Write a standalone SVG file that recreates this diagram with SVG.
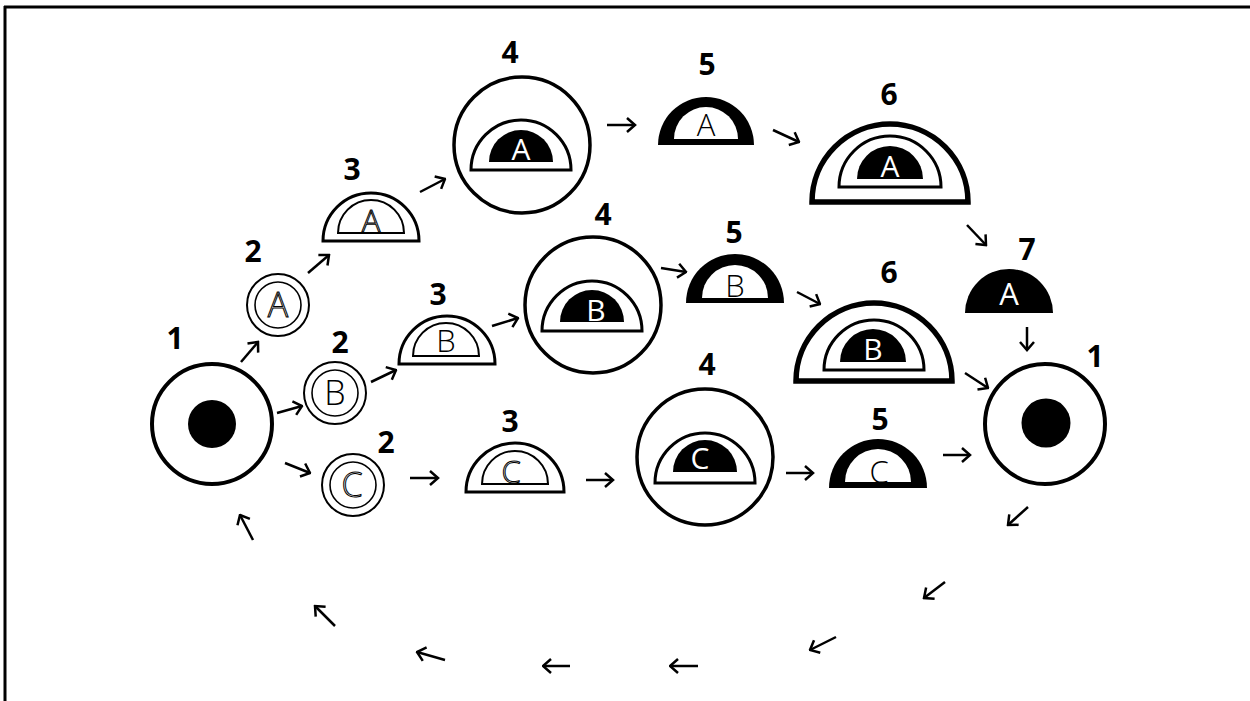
<svg xmlns="http://www.w3.org/2000/svg" width="1250" height="701" viewBox="0 0 1250 701">
<style>
.lbl{font-family:"Open Sans","Liberation Sans",sans-serif;font-weight:700;font-size:30px;fill:#000;text-anchor:middle}
.let{font-family:"Open Sans","Liberation Sans",sans-serif;font-weight:300;font-size:31px;fill:#000;text-anchor:middle}
.hol{fill:none;stroke:#000;stroke-width:1}
.wht{fill:#fff;font-weight:400}
.ring{fill:#fff;stroke:#000}
.blk{fill:#000}
.edge{stroke:#000;stroke-width:2.5;fill:none;marker-end:url(#ah)}
</style>
<defs>
<marker id="ah" viewBox="0 0 12 18" refX="10.5" refY="9" markerWidth="12" markerHeight="18" markerUnits="userSpaceOnUse" orient="auto">
<path d="M2.5,2 L10.5,9 L2.5,16" fill="none" stroke="#000" stroke-width="2.5" stroke-linejoin="miter"/>
</marker>
</defs>
<rect width="1250" height="701" fill="#fff"/>
<g id="frame">
<line x1="4" y1="7" x2="1250" y2="7" stroke="#000" stroke-width="3"/>
<line x1="5" y1="6" x2="5" y2="701" stroke="#000" stroke-width="3"/>
</g>
<g id="n1L">
<circle class="ring" cx="212" cy="424" r="60" stroke-width="4"/>
<circle class="blk" cx="212" cy="424" r="24"/>
<text class="lbl" x="175" y="349">1</text>
</g>
<g id="n2A">
<circle class="ring" cx="278" cy="305" r="31" stroke-width="2"/>
<circle class="ring" cx="278" cy="305" r="23" stroke-width="1.6"/>
<text class="let hol" x="278" y="317" style="font-size:34px">A</text>
<text class="lbl" x="253" y="262">2</text>
</g>
<g id="n2B">
<circle class="ring" cx="335" cy="393" r="31" stroke-width="2"/>
<circle class="ring" cx="335" cy="393" r="23" stroke-width="1.6"/>
<text class="let" x="335" y="405" style="font-size:34px">B</text>
<text class="lbl" x="340" y="353">2</text>
</g>
<g id="n2C">
<circle class="ring" cx="353" cy="485" r="31" stroke-width="2"/>
<circle class="ring" cx="353" cy="485" r="23" stroke-width="1.6"/>
<text class="let hol" x="352" y="497" style="font-size:34px">C</text>
<text class="lbl" x="386" y="453">2</text>
</g>
<g id="n3A">
<path class="ring" d="M323,241 A48,48 0 0 1 419,241 Z" stroke-width="3"/>
<path class="ring" d="M338,233 A33,33 0 0 1 404,233 Z" stroke-width="2"/>
<text class="let hol" x="371" y="232" style="font-size:31px">A</text>
<text class="lbl" x="352" y="180">3</text>
</g>
<g id="n4A">
<circle class="ring" cx="522" cy="145" r="68" stroke-width="3.5"/>
<path class="ring" d="M471,170 A50,50 0 0 1 571,170 Z" stroke-width="3"/>
<path class="blk" d="M489,162 A32,32 0 0 1 553,162 Z"/>
<text class="let wht" x="521" y="160" style="font-size:30px">A</text>
<text class="lbl" x="510" y="63">4</text>
</g>
<g id="n5A">
<path class="blk" d="M658,145 A48,48 0 0 1 754,145 Z"/>
<path fill="#fff" d="M674,139 A32,32 0 0 1 738,139 Z"/>
<text class="let" x="706" y="136" style="font-size:31px">A</text>
<text class="lbl" x="707" y="75">5</text>
</g>
<g id="n6A">
<path class="ring" d="M812,202 A78,78 0 0 1 968,202 Z" stroke-width="5.5"/>
<path class="ring" d="M839,187 A51,51 0 0 1 941,187 Z" stroke-width="3"/>
<path class="blk" d="M857,179 A33,33 0 0 1 923,179 Z"/>
<text class="let wht" x="890" y="177" style="font-size:30px">A</text>
<text class="lbl" x="889" y="105">6</text>
</g>
<g id="n7A">
<path class="blk" d="M965,313 A44,44 0 0 1 1053,313 Z"/>
<text class="let wht" x="1009" y="305" style="font-size:31px">A</text>
<text class="lbl" x="1027" y="260">7</text>
</g>
<g id="n1R">
<circle class="ring" cx="1045" cy="424" r="60" stroke-width="4"/>
<circle class="blk" cx="1046" cy="423" r="24.5"/>
<text class="lbl" x="1095" y="367">1</text>
</g>
<g id="n3B">
<path class="ring" d="M399,364 A48,48 0 0 1 495,364 Z" stroke-width="3"/>
<path class="ring" d="M413,356 A33,33 0 0 1 479,356 Z" stroke-width="2"/>
<text class="let" x="446" y="352" style="font-size:31px">B</text>
<text class="lbl" x="438" y="305">3</text>
</g>
<g id="n4B">
<circle class="ring" cx="593" cy="305" r="68" stroke-width="3.5"/>
<path class="ring" d="M542,331 A50,50 0 0 1 642,331 Z" stroke-width="3"/>
<path class="blk" d="M560,322 A32,32 0 0 1 624,322 Z"/>
<text class="let wht" x="596" y="321" style="font-size:30px">B</text>
<text class="lbl" x="603" y="225">4</text>
</g>
<g id="n5B">
<path class="blk" d="M686,303 A49,49 0 0 1 784,303 Z"/>
<path fill="#fff" d="M702,298 A33,33 0 0 1 768,298 Z"/>
<text class="let" x="735" y="297" style="font-size:31px">B</text>
<text class="lbl" x="734" y="243">5</text>
</g>
<g id="n6B">
<path class="ring" d="M796,381 A78,78 0 0 1 952,381 Z" stroke-width="5.5"/>
<path class="ring" d="M824,370 A50,50 0 0 1 924,370 Z" stroke-width="3"/>
<path class="blk" d="M840,362 A33,33 0 0 1 906,362 Z"/>
<text class="let wht" x="873" y="360" style="font-size:30px">B</text>
<text class="lbl" x="889" y="283">6</text>
</g>
<g id="n3C">
<path class="ring" d="M466,492 A49,49 0 0 1 564,492 Z" stroke-width="3"/>
<path class="ring" d="M482,484 A33,33 0 0 1 548,484 Z" stroke-width="2"/>
<text class="let hol" x="511" y="483" style="font-size:31px">C</text>
<text class="lbl" x="510" y="432">3</text>
</g>
<g id="n4C">
<circle class="ring" cx="705" cy="457" r="68" stroke-width="3.5"/>
<path class="ring" d="M655,483 A50,50 0 0 1 755,483 Z" stroke-width="3"/>
<path class="blk" d="M673,472 A32,32 0 0 1 737,472 Z"/>
<text class="let wht" x="700" y="469" style="font-size:30px">C</text>
<text class="lbl" x="707" y="375">4</text>
</g>
<g id="n5C">
<path class="blk" d="M829,488 A49,49 0 0 1 927,488 Z"/>
<path fill="#fff" d="M845,482 A33,33 0 0 1 911,482 Z"/>
<text class="let" x="879" y="483" style="font-size:31px">C</text>
<text class="lbl" x="880" y="430">5</text>
</g>
<g id="connectors">
<line class="edge" x1="241" y1="362" x2="258" y2="342"/>
<line class="edge" x1="277" y1="413" x2="302" y2="406"/>
<line class="edge" x1="285" y1="463" x2="310" y2="473"/>
<line class="edge" x1="308" y1="273" x2="329" y2="255"/>
<line class="edge" x1="371" y1="382" x2="396" y2="370"/>
<line class="edge" x1="410" y1="478" x2="438" y2="478"/>
<line class="edge" x1="420" y1="192" x2="445" y2="179"/>
<line class="edge" x1="607" y1="125" x2="635" y2="125"/>
<line class="edge" x1="773" y1="130" x2="799" y2="142"/>
<line class="edge" x1="967" y1="225" x2="986" y2="245"/>
<line class="edge" x1="1027" y1="327" x2="1027" y2="350"/>
<line class="edge" x1="492" y1="326" x2="518" y2="318"/>
<line class="edge" x1="661" y1="268" x2="686" y2="272"/>
<line class="edge" x1="797" y1="292" x2="820" y2="304"/>
<line class="edge" x1="965" y1="373" x2="988" y2="388"/>
<line class="edge" x1="586" y1="480" x2="613" y2="480"/>
<line class="edge" x1="786" y1="473" x2="813" y2="473"/>
<line class="edge" x1="943" y1="455" x2="970" y2="455"/>
<line class="edge" x1="1028" y1="507" x2="1008" y2="525"/>
<line class="edge" x1="945" y1="582" x2="924" y2="598"/>
<line class="edge" x1="836" y1="637" x2="810" y2="650"/>
<line class="edge" x1="698" y1="666" x2="670" y2="666"/>
<line class="edge" x1="570" y1="666" x2="543" y2="666"/>
<line class="edge" x1="445" y1="660" x2="417" y2="652"/>
<line class="edge" x1="335" y1="626" x2="315" y2="606"/>
<line class="edge" x1="253" y1="540" x2="240" y2="515"/>
</g>
</svg>
